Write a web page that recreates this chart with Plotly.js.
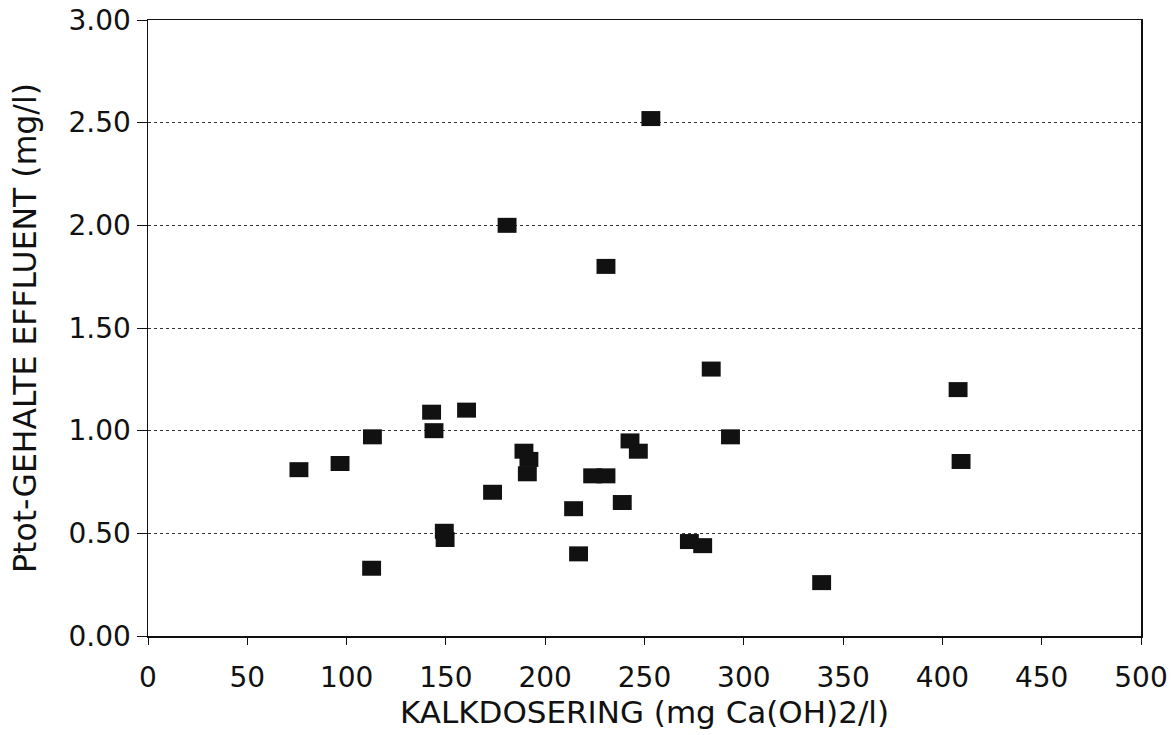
<!DOCTYPE html>
<html>
<head>
<meta charset="utf-8">
<script src="https://cdn.plot.ly/plotly-3.0.1.min.js"></script>
<style>html,body{margin:0;padding:0;background:#fff;}#chart{width:1173px;height:735px;}</style>
</head>
<body>
<div id="chart"></div>
<script>
// Kalkdosering (mg Ca(OH)2/l)
const kalkdosering = [76, 96.7, 113, 112.6, 142.8, 144, 160.4, 149.2, 149.6, 173.5,
  180.8, 189.3, 191.8, 191, 214.3, 216.8, 223.9, 230.6, 230.6, 238.8,
  242.7, 246.9, 253.2, 272.6, 279.3, 283.6, 293.3, 339.2, 407.9, 409.4];
// Ptot-gehalte effluent (mg/l)
const ptotEffluent = [0.81, 0.84, 0.97, 0.33, 1.09, 1.00, 1.10, 0.51, 0.47, 0.70,
  2.00, 0.90, 0.86, 0.79, 0.62, 0.40, 0.78, 0.78, 1.80, 0.65,
  0.95, 0.90, 2.52, 0.46, 0.44, 1.30, 0.97, 0.26, 1.20, 0.85];
const xTicks = [0, 50, 100, 150, 200, 250, 300, 350, 400, 450, 500];
const yTicks = [0, 0.5, 1.0, 1.5, 2.0, 2.5, 3.0];

const trace = {
  x: kalkdosering,
  y: ptotEffluent,
  type: 'scatter',
  mode: 'markers',
  marker: {symbol: 'line-ew', size: 13.5, color: '#111', line: {color: '#111', width: 15}},
  hoverinfo: 'x+y'
};

const fam = 'DejaVu Sans, Liberation Sans, sans-serif';

const layout = {
  width: 1173, height: 735,
  margin: {l: 148, r: 32, t: 20, b: 99},
  paper_bgcolor: '#fff', plot_bgcolor: '#fff',
  showlegend: false,
  font: {family: fam, color: '#111'},
  xaxis: {
    range: [0, 500], tickvals: xTicks, ticktext: xTicks.map(String),
    showgrid: false, zeroline: false,
    showline: true, linecolor: '#111', linewidth: 1.5, mirror: true,
    ticks: 'outside', ticklen: 7, tickcolor: '#111', tickwidth: 1,
    ticklabelstandoff: 9,
    tickfont: {family: fam, size: 28, color: '#111'},
    title: {text: 'KALKDOSERING (mg Ca(OH)2/l)', font: {family: fam, size: 31, color: '#111'}, standoff: 6}
  },
  yaxis: {
    range: [0, 3], tickvals: yTicks, ticktext: yTicks.map(v => v.toFixed(2)),
    showgrid: true, gridcolor: '#333', griddash: 'dot', gridwidth: 1,
    zeroline: false,
    showline: true, linecolor: '#111', linewidth: 1.5, mirror: true,
    ticks: 'outside', ticklen: 10, tickcolor: '#111', tickwidth: 1,
    tickfont: {family: fam, size: 28, color: '#111'},
    title: {text: 'Ptot-GEHALTE EFFLUENT (mg/l)', font: {family: fam, size: 31.5, color: '#111'}, standoff: 22}
  }
};

Plotly.newPlot('chart', [trace], layout, {displayModeBar: false, staticPlot: true});
</script>
</body>
</html>
